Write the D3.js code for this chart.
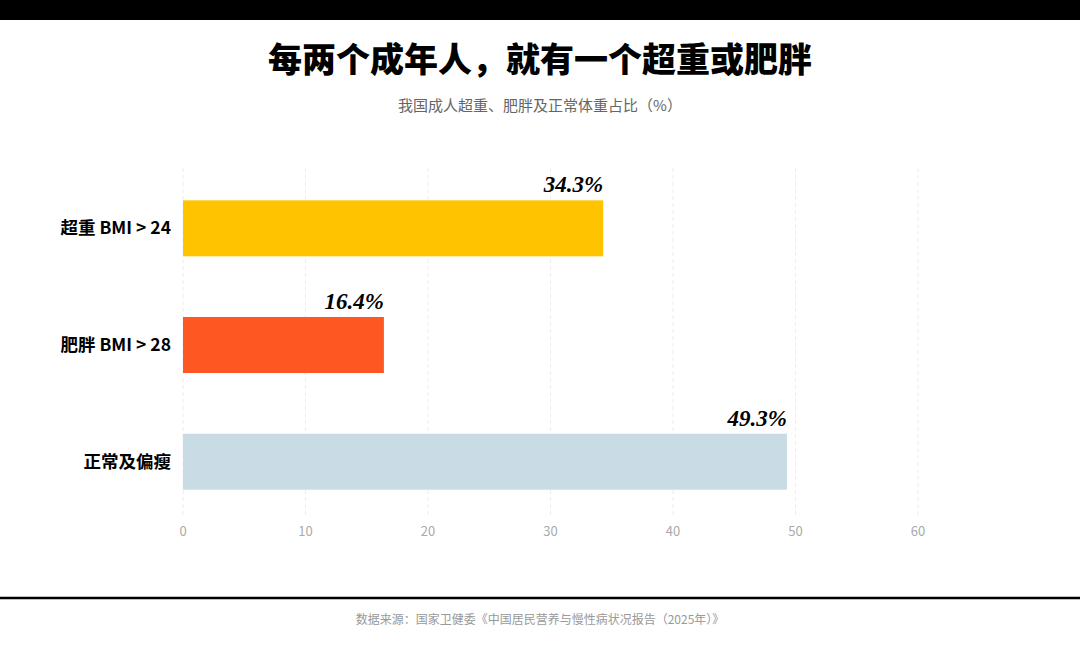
<!DOCTYPE html>
<html>
<head>
<meta charset="utf-8">
<script src="https://cdn.jsdelivr.net/npm/d3@7.9.0/dist/d3.min.js"></script>
<style>
  body { margin: 0; background: #fff; }
  svg { display: block; font-family: "Noto Sans CJK SC", "Noto Sans", sans-serif; }
</style>
</head>
<body>
<svg id="chart" width="1080" height="648"></svg>
<script>
const categories = ['超重 BMI > 24', '肥胖 BMI > 28', '正常及偏瘦'];
const values = [34.3, 16.4, 49.3];
const colors = ['#FFC300', '#FF5722', '#C9DCE5'];
const ticks = [0, 10, 20, 30, 40, 50, 60];

const svg = d3.select('#chart');

// top band and bottom rule
svg.append('rect').attr('x', 0).attr('y', 0).attr('width', 1080).attr('height', 20).attr('fill', '#000');
svg.append('line').attr('x1', 0).attr('x2', 1080).attr('y1', 598).attr('y2', 598)
  .attr('stroke', '#000').attr('stroke-width', 2.5);

svg.append('text').attr('x', 540).attr('y', 72).attr('text-anchor', 'middle')
  .attr('font-size', 34).attr('font-weight', 900).attr('fill', '#000')
  .text('每两个成年人，就有一个超重或肥胖');
svg.append('text').attr('x', 540).attr('y', 111).attr('text-anchor', 'middle')
  .attr('font-size', 15).attr('fill', '#666')
  .text('我国成人超重、肥胖及正常体重占比（%）');
svg.append('text').attr('x', 540).attr('y', 624).attr('text-anchor', 'middle')
  .attr('font-size', 12).attr('fill', '#999')
  .text('数据来源：国家卫健委《中国居民营养与慢性病状况报告（2025年）》');

const x = d3.scaleLinear().domain([0, 60]).range([183, 918]);
const y = d3.scaleBand().domain(categories).range([170, 520]).paddingInner(0.52).paddingOuter(0.26);

// grid
svg.append('g').selectAll('line').data(ticks).join('line')
  .attr('x1', d => x(d)).attr('x2', d => x(d))
  .attr('y1', 168).attr('y2', 515)
  .attr('stroke', '#ececec').attr('stroke-dasharray', '4,3').attr('stroke-width', 1);

// x tick labels
svg.append('g').selectAll('text').data(ticks).join('text')
  .attr('x', d => x(d)).attr('y', 536).attr('text-anchor', 'middle')
  .attr('font-size', 13).attr('fill', '#aaa')
  .text(d => d);

// bars
svg.append('g').selectAll('rect').data(values).join('rect')
  .attr('x', x(0)).attr('y', (d, i) => y(categories[i]))
  .attr('width', d => x(d) - x(0)).attr('height', y.bandwidth())
  .attr('fill', (d, i) => colors[i]);

// value labels
svg.append('g').selectAll('text').data(values).join('text')
  .attr('x', d => x(d)).attr('y', (d, i) => y(categories[i]) - 8)
  .attr('text-anchor', 'end')
  .attr('font-family', '"Liberation Serif", "DejaVu Serif", serif')
  .attr('font-style', 'italic').attr('font-weight', 'bold')
  .attr('font-size', 23).attr('fill', '#000')
  .text(d => d.toFixed(1) + '%');

// category labels
svg.append('g').selectAll('text').data(categories).join('text')
  .attr('x', 171).attr('y', d => y(d) + y.bandwidth() / 2)
  .attr('dy', '0.35em').attr('text-anchor', 'end')
  .attr('font-size', 17.5).attr('font-weight', 'bold').attr('fill', '#000')
  .text(d => d);
</script>
</body>
</html>
